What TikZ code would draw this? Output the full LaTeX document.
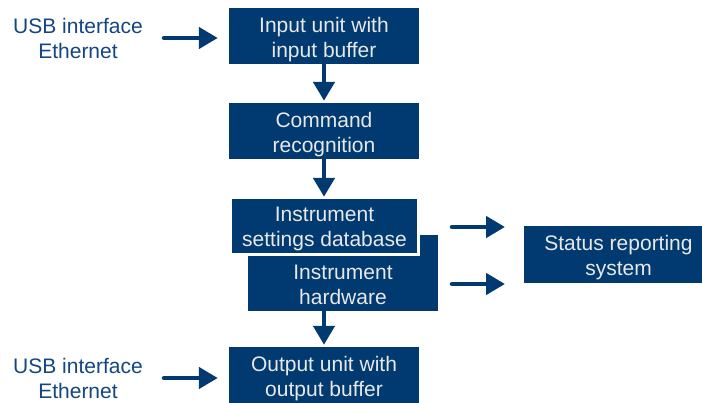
\documentclass[tikz,border=0pt]{standalone}
\usepackage{fontspec}
\setmainfont{Liberation Sans}
\usetikzlibrary{arrows.meta}
\definecolor{rsblue}{RGB}{0,58,112}
\definecolor{rstext}{RGB}{232,232,232}
\definecolor{rslabel}{RGB}{20,70,130}
\tikzset{
  blockbox/.style={fill=rsblue, draw=none, inner sep=0pt},
  boxtext/.style={inner sep=0pt, align=center, text=rstext,
    font=\fontsize{21}{25}\selectfont},
  plaintext/.style={inner sep=0pt, align=center, text=rslabel,
    font=\fontsize{21}{25}\selectfont},
  flowarrow/.style={draw=rsblue, line width=4.5pt, line cap=round,
    -{Triangle[length=19pt,width=21pt]}},
}
\begin{document}
\begin{tikzpicture}[x=1pt,y=-1pt]
\clip (0,0) rectangle (702,403);
\fill[white] (0,0) rectangle (702,403);
% boxes
\node[blockbox, minimum width=190pt, minimum height=56pt] (in) at (324,36) {};
\node[boxtext] (intext) at (324,39.5) {Input unit with\\input buffer};
\node[blockbox, minimum width=190pt, minimum height=56pt] (cmd) at (324,131) {};
\node[boxtext] (cmdtext) at (324,134.5) {Command\\recognition};
\node[blockbox, minimum width=190pt, minimum height=76pt] (hw) at (343,273) {};
\node[boxtext] (hwtext) at (343,284.5) {Instrument\\hardware};
\fill[white] (229,196) rectangle (420,256);
\node[blockbox, minimum width=185pt, minimum height=54pt] (db) at (324.5,226) {};
\node[boxtext] (dbtext) at (324.5,228.5) {Instrument\\settings database};
\node[blockbox, minimum width=190pt, minimum height=56pt] (out) at (324,375) {};
\node[boxtext] (outtext) at (324,378.5) {Output unit with\\output buffer};
\node[blockbox, minimum width=189pt, minimum height=57pt] (stat) at (618.5,254.5) {};
\node[boxtext] (stattext) at (618.5,257.5) {Status reporting\\system};
% labels
\node[plaintext] (lin) at (78,38.5) {USB interface\\Ethernet};
\node[plaintext] (lout) at (78,378.5) {USB interface\\Ethernet};
% coordinates
\coordinate (a1) at (164,38);
\coordinate (a2) at (164,378);
\coordinate (r1s) at (452,227);
\coordinate (r1e) at (505,227);
\coordinate (r2s) at (452,284);
\coordinate (r2e) at (505,284);
% arrows
\draw[flowarrow, shorten >=11pt] (a1) -- (a1 -| in.west);
\draw[flowarrow, shorten >=11pt] (a2) -- (a2 -| out.west);
\draw[flowarrow, shorten >=2pt] (in.south) -- (cmd.north);
\draw[flowarrow, shorten >=2pt] (cmd.south) -- (db.north -| cmd.south);
\draw[flowarrow, shorten >=2pt] (out.north |- hw.south) -- (out.north);
\draw[flowarrow] (r1s) -- (r1e);
\draw[flowarrow] (r2s) -- (r2e);
\end{tikzpicture}
\end{document}
